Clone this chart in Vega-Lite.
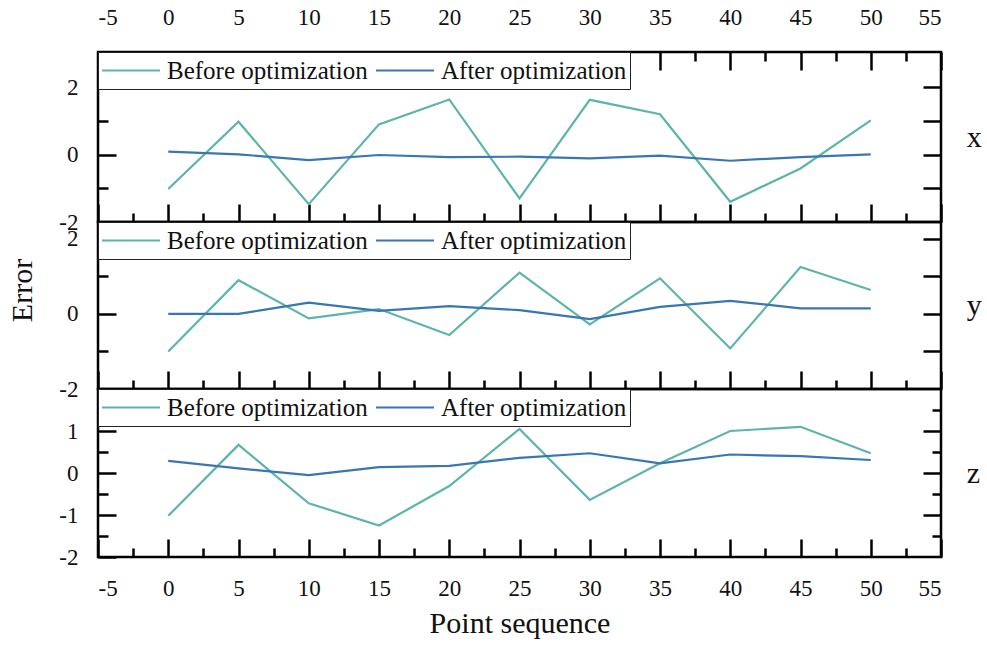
{
  "$schema": "https://vega.github.io/schema/vega-lite/v6.json",
  "padding": {"left": 6, "top": 4, "right": 6, "bottom": 5},
  "data": {
    "values": [
      {"comp": "x", "series": "Before optimization", "seq": 0, "err": -1.02},
      {"comp": "x", "series": "Before optimization", "seq": 5, "err": 0.98},
      {"comp": "x", "series": "Before optimization", "seq": 10, "err": -1.47},
      {"comp": "x", "series": "Before optimization", "seq": 15, "err": 0.9},
      {"comp": "x", "series": "Before optimization", "seq": 20, "err": 1.64},
      {"comp": "x", "series": "Before optimization", "seq": 25, "err": -1.3},
      {"comp": "x", "series": "Before optimization", "seq": 30, "err": 1.63},
      {"comp": "x", "series": "Before optimization", "seq": 35, "err": 1.2},
      {"comp": "x", "series": "Before optimization", "seq": 40, "err": -1.4},
      {"comp": "x", "series": "Before optimization", "seq": 45, "err": -0.41},
      {"comp": "x", "series": "Before optimization", "seq": 50, "err": 1.02},
      {"comp": "x", "series": "After optimization", "seq": 0, "err": 0.09},
      {"comp": "x", "series": "After optimization", "seq": 5, "err": 0.01},
      {"comp": "x", "series": "After optimization", "seq": 10, "err": -0.16},
      {"comp": "x", "series": "After optimization", "seq": 15, "err": -0.01},
      {"comp": "x", "series": "After optimization", "seq": 20, "err": -0.07},
      {"comp": "x", "series": "After optimization", "seq": 25, "err": -0.06},
      {"comp": "x", "series": "After optimization", "seq": 30, "err": -0.11},
      {"comp": "x", "series": "After optimization", "seq": 35, "err": -0.03},
      {"comp": "x", "series": "After optimization", "seq": 40, "err": -0.18},
      {"comp": "x", "series": "After optimization", "seq": 45, "err": -0.07},
      {"comp": "x", "series": "After optimization", "seq": 50, "err": 0.01},
      {"comp": "y", "series": "Before optimization", "seq": 0, "err": -1.0},
      {"comp": "y", "series": "Before optimization", "seq": 5, "err": 0.9},
      {"comp": "y", "series": "Before optimization", "seq": 10, "err": -0.12},
      {"comp": "y", "series": "Before optimization", "seq": 15, "err": 0.13},
      {"comp": "y", "series": "Before optimization", "seq": 20, "err": -0.56},
      {"comp": "y", "series": "Before optimization", "seq": 25, "err": 1.1},
      {"comp": "y", "series": "Before optimization", "seq": 30, "err": -0.28},
      {"comp": "y", "series": "Before optimization", "seq": 35, "err": 0.95},
      {"comp": "y", "series": "Before optimization", "seq": 40, "err": -0.92},
      {"comp": "y", "series": "Before optimization", "seq": 45, "err": 1.25},
      {"comp": "y", "series": "Before optimization", "seq": 50, "err": 0.64},
      {"comp": "y", "series": "After optimization", "seq": 0, "err": 0.0},
      {"comp": "y", "series": "After optimization", "seq": 5, "err": 0.0},
      {"comp": "y", "series": "After optimization", "seq": 10, "err": 0.3},
      {"comp": "y", "series": "After optimization", "seq": 15, "err": 0.08},
      {"comp": "y", "series": "After optimization", "seq": 20, "err": 0.21},
      {"comp": "y", "series": "After optimization", "seq": 25, "err": 0.1},
      {"comp": "y", "series": "After optimization", "seq": 30, "err": -0.14},
      {"comp": "y", "series": "After optimization", "seq": 35, "err": 0.19},
      {"comp": "y", "series": "After optimization", "seq": 40, "err": 0.35},
      {"comp": "y", "series": "After optimization", "seq": 45, "err": 0.15},
      {"comp": "y", "series": "After optimization", "seq": 50, "err": 0.15},
      {"comp": "z", "series": "Before optimization", "seq": 0, "err": -1.02},
      {"comp": "z", "series": "Before optimization", "seq": 5, "err": 0.67},
      {"comp": "z", "series": "Before optimization", "seq": 10, "err": -0.72},
      {"comp": "z", "series": "Before optimization", "seq": 15, "err": -1.25},
      {"comp": "z", "series": "Before optimization", "seq": 20, "err": -0.31},
      {"comp": "z", "series": "Before optimization", "seq": 25, "err": 1.05},
      {"comp": "z", "series": "Before optimization", "seq": 30, "err": -0.64},
      {"comp": "z", "series": "Before optimization", "seq": 35, "err": 0.23},
      {"comp": "z", "series": "Before optimization", "seq": 40, "err": 1.0},
      {"comp": "z", "series": "Before optimization", "seq": 45, "err": 1.1},
      {"comp": "z", "series": "Before optimization", "seq": 50, "err": 0.47},
      {"comp": "z", "series": "After optimization", "seq": 0, "err": 0.29},
      {"comp": "z", "series": "After optimization", "seq": 5, "err": 0.11},
      {"comp": "z", "series": "After optimization", "seq": 10, "err": -0.05},
      {"comp": "z", "series": "After optimization", "seq": 15, "err": 0.14},
      {"comp": "z", "series": "After optimization", "seq": 20, "err": 0.17},
      {"comp": "z", "series": "After optimization", "seq": 25, "err": 0.36},
      {"comp": "z", "series": "After optimization", "seq": 30, "err": 0.47},
      {"comp": "z", "series": "After optimization", "seq": 35, "err": 0.23},
      {"comp": "z", "series": "After optimization", "seq": 40, "err": 0.44},
      {"comp": "z", "series": "After optimization", "seq": 45, "err": 0.4},
      {"comp": "z", "series": "After optimization", "seq": 50, "err": 0.31}
    ]
  },
  "spacing": 0,
  "bounds": "flush",
  "resolve": {"legend": {"color": "independent"}},
  "vconcat": [
    {
      "width": 843,
      "height": 170,
      "transform": [{"filter": "datum.comp === 'x'"}],
      "resolve": {"axis": {"x": "independent", "y": "independent"}},
      "layer": [
        {
          "mark": {"type": "line", "strokeWidth": 2.2},
          "encoding": {
            "x": {"field": "seq", "type": "quantitative", "scale": {"domain": [-5, 55], "nice": false, "zero": false},
              "axis": {"orient": "bottom", "values": [-5, 0, 5, 10, 15, 20, 25, 30, 35, 40, 45, 50, 55], "labels": false, "tickSize": -18, "title": null}},
            "y": {"field": "err", "type": "quantitative", "scale": {"domain": [-2, 3.05], "nice": false, "zero": false},
              "axis": {"orient": "left", "values": [-2, 0, 2], "tickSize": -18, "labelPadding": 38, "title": null}},
            "color": {"field": "series", "type": "nominal",
              "scale": {"domain": ["Before optimization", "After optimization"], "range": ["#5db5a9", "#3a76b2"]},
              "legend": {"title": null}}
          }
        },
        {
          "mark": {"type": "line", "opacity": 0},
          "encoding": {
            "x": {"field": "seq", "type": "quantitative", "scale": {"domain": [-5, 55], "nice": false, "zero": false},
              "axis": {"orient": "bottom", "values": [-2.5, 2.5, 7.5, 12.5, 17.5, 22.5, 27.5, 32.5, 37.5, 42.5, 47.5, 52.5], "labels": false, "tickSize": -9, "title": null}},
            "y": {"field": "err", "type": "quantitative", "scale": {"domain": [-2, 3.05], "nice": false, "zero": false},
              "axis": {"orient": "left", "values": [-1, 1], "labels": false, "tickSize": -10, "title": null}}
          }
        },
        {
          "mark": {"type": "line", "opacity": 0},
          "encoding": {
            "x": {"field": "seq", "type": "quantitative", "scale": {"domain": [-5, 55], "nice": false, "zero": false},
              "axis": {"orient": "top", "values": [-5, 0, 5, 10, 15, 20, 25, 30, 35, 40, 45, 50, 55], "tickSize": -18, "labelPadding": 46, "labelBaseline": "alphabetic", "title": null}},
            "y": {"field": "err", "type": "quantitative", "scale": {"domain": [-2, 3.05], "nice": false, "zero": false},
              "axis": {"orient": "right", "values": [-1, 0, 1, 2], "labels": false, "tickSize": -18, "title": "x", "titleAngle": 0, "titleAlign": "left", "titleBaseline": "middle", "titlePadding": 24}}
          }
        },
        {
          "mark": {"type": "line", "opacity": 0},
          "encoding": {
            "x": {"field": "seq", "type": "quantitative", "scale": {"domain": [-5, 55], "nice": false, "zero": false},
              "axis": {"orient": "top", "values": [-2.5, 2.5, 7.5, 12.5, 17.5, 22.5, 27.5, 32.5, 37.5, 42.5, 47.5, 52.5], "labels": false, "tickSize": -9, "title": null}},
            "y": {"field": "err", "type": "quantitative", "scale": {"domain": [-2, 3.05], "nice": false, "zero": false}, "axis": null}
          }
        }
      ]
    },
    {
      "width": 843,
      "height": 167,
      "transform": [{"filter": "datum.comp === 'y'"}],
      "resolve": {"axis": {"x": "independent", "y": "independent"}},
      "layer": [
        {
          "mark": {"type": "line", "strokeWidth": 2.2},
          "encoding": {
            "x": {"field": "seq", "type": "quantitative", "scale": {"domain": [-5, 55], "nice": false, "zero": false},
              "axis": {"orient": "bottom", "values": [-5, 0, 5, 10, 15, 20, 25, 30, 35, 40, 45, 50, 55], "labels": false, "tickSize": -18, "title": null}},
            "y": {"field": "err", "type": "quantitative", "scale": {"domain": [-2, 2.45], "nice": false, "zero": false},
              "axis": {"orient": "left", "values": [-2, 0, 2], "tickSize": -18, "labelPadding": 38, "title": "Error", "titlePadding": 21, "titleY": 68}},
            "color": {"field": "series", "type": "nominal",
              "scale": {"domain": ["Before optimization", "After optimization"], "range": ["#5db5a9", "#3a76b2"]},
              "legend": {"title": null}}
          }
        },
        {
          "mark": {"type": "line", "opacity": 0},
          "encoding": {
            "x": {"field": "seq", "type": "quantitative", "scale": {"domain": [-5, 55], "nice": false, "zero": false},
              "axis": {"orient": "bottom", "values": [-2.5, 2.5, 7.5, 12.5, 17.5, 22.5, 27.5, 32.5, 37.5, 42.5, 47.5, 52.5], "labels": false, "tickSize": -9, "title": null}},
            "y": {"field": "err", "type": "quantitative", "scale": {"domain": [-2, 2.45], "nice": false, "zero": false},
              "axis": {"orient": "left", "values": [-1, 1], "labels": false, "tickSize": -10, "title": null}}
          }
        },
        {
          "mark": {"type": "line", "opacity": 0},
          "encoding": {
            "x": {"field": "seq", "type": "quantitative", "scale": {"domain": [-5, 55], "nice": false, "zero": false}, "axis": null},
            "y": {"field": "err", "type": "quantitative", "scale": {"domain": [-2, 2.45], "nice": false, "zero": false},
              "axis": {"orient": "right", "values": [-1, 0, 1, 2], "labels": false, "tickSize": -18, "title": "y", "titleAngle": 0, "titleAlign": "left", "titleBaseline": "middle", "titlePadding": 24}}
          }
        }
      ]
    },
    {
      "width": 843,
      "height": 168,
      "transform": [{"filter": "datum.comp === 'z'"}],
      "resolve": {"axis": {"x": "independent", "y": "independent"}},
      "layer": [
        {
          "mark": {"type": "line", "strokeWidth": 2.2},
          "encoding": {
            "x": {"field": "seq", "type": "quantitative", "scale": {"domain": [-5, 55], "nice": false, "zero": false},
              "axis": {"orient": "bottom", "values": [-5, 0, 5, 10, 15, 20, 25, 30, 35, 40, 45, 50, 55], "tickSize": -18, "labelPadding": 38, "title": "Point sequence", "titlePadding": 8}},
            "y": {"field": "err", "type": "quantitative", "scale": {"domain": [-2, 2], "nice": false, "zero": false},
              "axis": {"orient": "left", "values": [-2, -1, 0, 1], "tickSize": -18, "labelPadding": 38, "title": null}},
            "color": {"field": "series", "type": "nominal",
              "scale": {"domain": ["Before optimization", "After optimization"], "range": ["#5db5a9", "#3a76b2"]},
              "legend": {"title": null}}
          }
        },
        {
          "mark": {"type": "line", "opacity": 0},
          "encoding": {
            "x": {"field": "seq", "type": "quantitative", "scale": {"domain": [-5, 55], "nice": false, "zero": false},
              "axis": {"orient": "bottom", "values": [-2.5, 2.5, 7.5, 12.5, 17.5, 22.5, 27.5, 32.5, 37.5, 42.5, 47.5, 52.5], "labels": false, "tickSize": -9, "title": null}},
            "y": {"field": "err", "type": "quantitative", "scale": {"domain": [-2, 2], "nice": false, "zero": false},
              "axis": {"orient": "left", "values": [-1.5, -0.5, 0.5, 1.5], "labels": false, "tickSize": -10, "title": null}}
          }
        },
        {
          "mark": {"type": "line", "opacity": 0},
          "encoding": {
            "x": {"field": "seq", "type": "quantitative", "scale": {"domain": [-5, 55], "nice": false, "zero": false}, "axis": null},
            "y": {"field": "err", "type": "quantitative", "scale": {"domain": [-2, 2], "nice": false, "zero": false},
              "axis": {"orient": "right", "values": [-1, 0, 1], "labels": false, "tickSize": -18, "title": "z", "titleAngle": 0, "titleAlign": "left", "titleBaseline": "middle", "titlePadding": 24}}
          }
        },
        {
          "mark": {"type": "line", "opacity": 0},
          "encoding": {
            "x": {"field": "seq", "type": "quantitative", "scale": {"domain": [-5, 55], "nice": false, "zero": false}, "axis": null},
            "y": {"field": "err", "type": "quantitative", "scale": {"domain": [-2, 2], "nice": false, "zero": false},
              "axis": {"orient": "right", "values": [-1.5, -0.5, 0.5, 1.5], "labels": false, "tickSize": -9, "title": null}}
          }
        }
      ]
    }
  ],
  "config": {
    "font": "Liberation Serif",
    "background": "white",
    "view": {"stroke": "black", "strokeWidth": 2.5},
    "style": {
      "guide-label": {"font": "Liberation Serif", "fontSize": 23, "fill": "#111111"},
      "guide-title": {"font": "Liberation Serif", "fontSize": 30, "fontWeight": "normal", "fill": "#111111"}
    },
    "axis": {
      "domain": false,
      "grid": false,
      "ticks": true,
      "tickColor": "black",
      "tickWidth": 2.5,
      "labelExpr": "'' + datum.value",
      "labelFont": "Liberation Serif",
      "labelFontSize": 23,
      "labelColor": "#111111",
      "titleFont": "Liberation Serif",
      "titleFontSize": 30,
      "titleFontWeight": "normal",
      "titleColor": "#111111"
    },
    "legend": {
      "orient": "top-left",
      "offset": 0,
      "direction": "horizontal",
      "fillColor": "white",
      "strokeColor": "#222222",
      "strokeWidth": 1,
      "padding": 3,
      "clipHeight": 31,
      "symbolType": "stroke",
      "symbolSize": 3364,
      "symbolStrokeWidth": 2,
      "labelFont": "Liberation Serif",
      "labelFontSize": 25,
      "labelColor": "#111111",
      "labelOffset": 6,
      "labelLimit": 0,
      "columnPadding": 7
    }
  }
}
